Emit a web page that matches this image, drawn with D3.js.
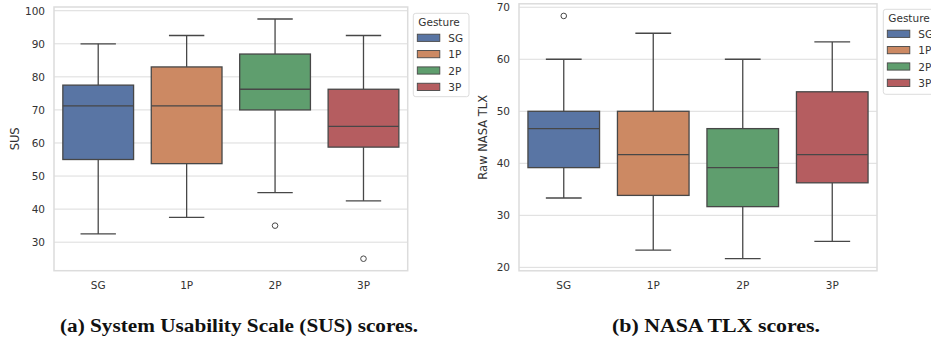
<!DOCTYPE html>
<html>
<head>
<meta charset="utf-8">
<script src="https://cdn.jsdelivr.net/npm/d3@7"></script>
<style>
  html, body { margin: 0; padding: 0; background: #fff; }
  svg { display: block; }
</style>
</head>
<body>
<svg id="chart" width="931" height="339"></svg>
<script>
// ---------- DATA ----------
const categories = ["SG", "1P", "2P", "3P"];
const legendTitle = "Gesture";

// SUS boxplot statistics
const susLow  = [32.5, 37.5, 45, 42.5];
const susQ1   = [55, 53.75, 70, 58.75];
const susMed  = [71.25, 71.25, 76.25, 65];
const susQ3   = [77.5, 83, 86.9, 76.25];
const susHigh = [90, 92.5, 97.5, 92.5];
const susOut  = [[], [], [35], [25]];
const susTicks = [30, 40, 50, 60, 70, 80, 90, 100];

// NASA TLX boxplot statistics
const tlxLow  = [33.33, 23.33, 21.67, 25];
const tlxQ1   = [39.17, 33.83, 31.67, 36.25];
const tlxMed  = [46.67, 41.67, 39.17, 41.67];
const tlxQ3   = [50, 50, 46.67, 53.75];
const tlxHigh = [60, 65, 60, 63.33];
const tlxOut  = [[68.33], [], [], []];
const tlxTicks = [20, 30, 40, 50, 60, 70];

const colors = ["#5975a4", "#cc8963", "#5f9e6e", "#b55d60"];

// ---------- DRAW ----------
const svg = d3.select("#chart");
const FONT = "DejaVu Sans, sans-serif";
const TXT = "#333";
const LINE = "#474747";
const GRID = "#dcdcdc";

function panel(opts) {
  const { x0, x1, y0, y1, low, q1, med, q3, high, out, ticks, ylabel, ylabelX,
          legX, legY, legW, legH } = opts;
  const all = low.concat(high, out.flat());
  const mn = d3.min(all), mx = d3.max(all), pad = (mx - mn) * 0.05;
  const y = d3.scaleLinear().domain([mn - pad, mx + pad]).range([y1, y0]);
  const x = d3.scaleBand().domain(categories).range([x0, x1]).padding(0);
  const g = svg.append("g");

  // grid
  g.append("g").selectAll("line").data(ticks).join("line")
    .attr("x1", x0).attr("x2", x1)
    .attr("y1", d => y(d)).attr("y2", d => y(d))
    .attr("stroke", GRID).attr("stroke-width", 1);

  // frame
  g.append("rect").attr("x", x0).attr("y", y0).attr("width", x1 - x0).attr("height", y1 - y0)
    .attr("fill", "none").attr("stroke", GRID).attr("stroke-width", 1.5);

  // y axis
  const ya = d3.axisLeft(y).tickValues(ticks).tickSize(0).tickPadding(9);
  const yg = g.append("g").attr("transform", `translate(${x0},0)`).call(ya);
  yg.select(".domain").remove();
  yg.selectAll("text").attr("fill", TXT).style("font-family", FONT).style("font-size", "10.5px");

  // x axis
  const xa = d3.axisBottom(x).tickSize(0).tickPadding(11);
  const xg = g.append("g").attr("transform", `translate(0,${y1})`).call(xa);
  xg.select(".domain").remove();
  xg.selectAll("text").attr("fill", TXT).style("font-family", FONT).style("font-size", "10.5px");

  // y label
  g.append("text").attr("transform", `translate(${ylabelX},${(y0 + y1) / 2}) rotate(-90)`)
    .attr("text-anchor", "middle").attr("dominant-baseline", "central")
    .attr("fill", TXT).style("font-family", FONT).style("font-size", "11.5px").text(ylabel);

  const bw = x.bandwidth() * 0.8;
  const cap = bw / 2;
  const boxes = g.append("g").selectAll("g").data(categories).join("g")
    .attr("transform", d => `translate(${x(d) + x.bandwidth() / 2},0)`);
  // whiskers
  boxes.append("line").attr("x1", 0).attr("x2", 0)
    .attr("y1", (d, i) => y(high[i])).attr("y2", (d, i) => y(q3[i]))
    .attr("stroke", LINE).attr("stroke-width", 1.3);
  boxes.append("line").attr("x1", 0).attr("x2", 0)
    .attr("y1", (d, i) => y(q1[i])).attr("y2", (d, i) => y(low[i]))
    .attr("stroke", LINE).attr("stroke-width", 1.3);
  boxes.append("line").attr("x1", -cap / 2).attr("x2", cap / 2)
    .attr("y1", (d, i) => y(high[i])).attr("y2", (d, i) => y(high[i]))
    .attr("stroke", LINE).attr("stroke-width", 1.3);
  boxes.append("line").attr("x1", -cap / 2).attr("x2", cap / 2)
    .attr("y1", (d, i) => y(low[i])).attr("y2", (d, i) => y(low[i]))
    .attr("stroke", LINE).attr("stroke-width", 1.3);
  // box
  boxes.append("rect").attr("x", -bw / 2).attr("width", bw)
    .attr("y", (d, i) => y(q3[i])).attr("height", (d, i) => y(q1[i]) - y(q3[i]))
    .attr("fill", (d, i) => colors[i]).attr("stroke", LINE).attr("stroke-width", 1.3);
  // median
  boxes.append("line").attr("x1", -bw / 2).attr("x2", bw / 2)
    .attr("y1", (d, i) => y(med[i])).attr("y2", (d, i) => y(med[i]))
    .attr("stroke", LINE).attr("stroke-width", 1.3);
  // outliers
  boxes.each(function (d, i) {
    d3.select(this).selectAll("circle").data(out[i]).join("circle")
      .attr("cx", 0).attr("cy", v => y(v)).attr("r", 2.8)
      .attr("fill", "none").attr("stroke", LINE).attr("stroke-width", 1);
  });

  // legend
  const lg = svg.append("g").attr("transform", `translate(${legX},${legY})`);
  lg.append("rect").attr("x", 0).attr("y", 0).attr("width", legW).attr("height", legH)
    .attr("rx", 2.5).attr("fill", "#fff").attr("stroke", "#dcdcdc").attr("stroke-width", 1);
  lg.append("text").attr("x", 5).attr("y", 9).attr("dominant-baseline", "central")
    .attr("fill", TXT).style("font-family", FONT).style("font-size", "10.5px").text(legendTitle);
  const items = lg.selectAll("g.it").data(categories).join("g").attr("class", "it")
    .attr("transform", (d, i) => `translate(4,${24.5 + i * 16.35})`);
  items.append("rect").attr("x", 0).attr("y", -3.6).attr("width", 22.5).attr("height", 7.2)
    .attr("fill", (d, i) => colors[i]).attr("stroke", LINE).attr("stroke-width", 0.9);
  items.append("text").attr("x", 31).attr("y", 0).attr("dominant-baseline", "central")
    .attr("fill", TXT).style("font-family", FONT).style("font-size", "10.5px").text(d => d);
}

panel({ x0: 54, x1: 407.7, y0: 7, y1: 270.7,
  low: susLow, q1: susQ1, med: susMed, q3: susQ3, high: susHigh, out: susOut,
  ticks: susTicks, ylabel: "SUS", ylabelX: 15,
  legX: 413.3, legY: 13.3, legW: 55.7, legH: 83.4 });

panel({ x0: 519, x1: 877, y0: 3.8, y1: 270.8,
  low: tlxLow, q1: tlxQ1, med: tlxMed, q3: tlxQ3, high: tlxHigh, out: tlxOut,
  ticks: tlxTicks, ylabel: "Raw NASA TLX", ylabelX: 483,
  legX: 883.3, legY: 9.3, legW: 56, legH: 85 });

// captions
const capFont = "Liberation Serif, serif";
svg.append("text").attr("x", 60).attr("y", 332)
  .attr("textLength", 358).attr("lengthAdjust", "spacingAndGlyphs")
  .attr("fill", "#111").style("font-family", capFont).style("font-weight", "bold").style("font-size", "18.5px")
  .text("(a) System Usability Scale (SUS) scores.");
svg.append("text").attr("x", 612).attr("y", 332)
  .attr("textLength", 208).attr("lengthAdjust", "spacingAndGlyphs")
  .attr("fill", "#111").style("font-family", capFont).style("font-weight", "bold").style("font-size", "18.5px")
  .text("(b) NASA TLX scores.");
</script>
</body>
</html>
